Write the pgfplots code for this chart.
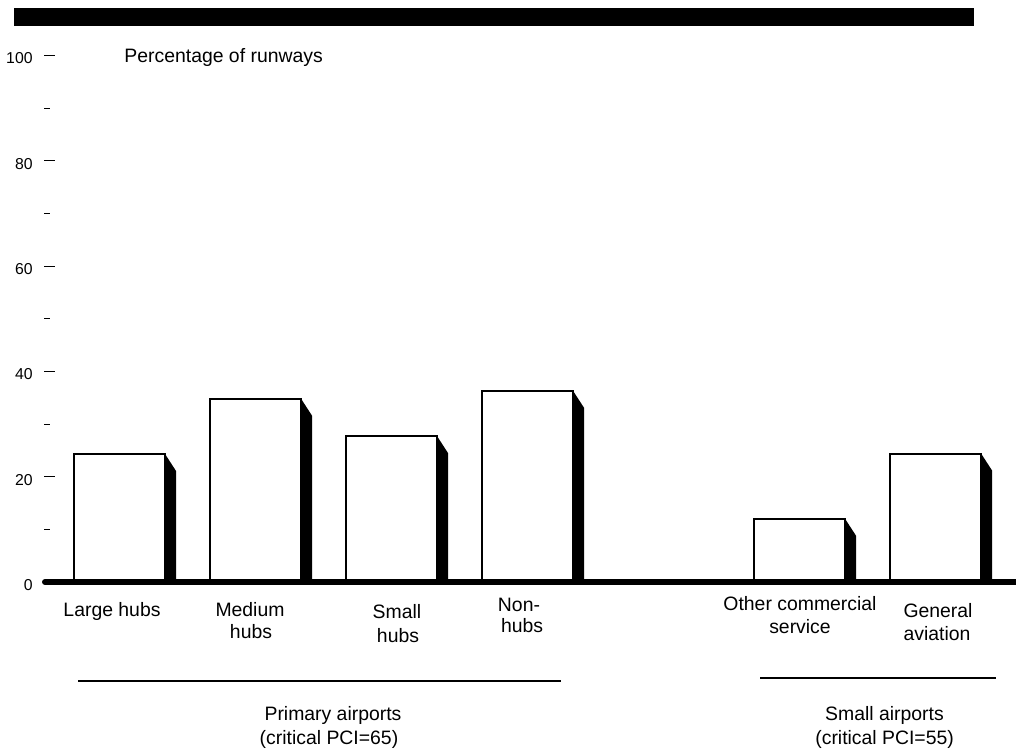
\documentclass[border=0pt]{standalone}
\usepackage{pgfplots}
\pgfplotsset{compat=1.18}
\usepackage{fontspec}
\setmainfont{Liberation Sans}
\begin{document}
\begin{tikzpicture}
\begin{axis}[
  name=ax,
  scale only axis,
  width=486pt, height=291pt,
  xmin=-0.5551, xmax=6.5919,
  ymin=0, ymax=110.54,
  axis lines*=left,
  x axis line style={draw=none},
  y axis line style={draw=none},
  xtick=\empty,
  ytick={0,20,40,60,80,100},
  minor ytick={10,30,50,70,90},
  tick align=inside,
  major tick length=5.5pt,
  minor tick length=3pt,
  tick style={black, line width=0.5pt},
  yticklabel style={font=\fontsize{7.9}{9}\selectfont, anchor=east, inner sep=0pt, xshift=-5.5pt, yshift=-1.5pt},
  /pgf/number format/assume math mode=true,
  clip=false,
]
% shadows (3D side faces)
\addplot[fill=black, draw=none] coordinates {(0.335,0) (0.335,24.3) (0.416,21.07) (0.416,0)} --cycle;
\addplot[fill=black, draw=none] coordinates {(1.335,0) (1.335,34.8) (1.416,31.57) (1.416,0)} --cycle;
\addplot[fill=black, draw=none] coordinates {(2.335,0) (2.335,27.7) (2.416,24.47) (2.416,0)} --cycle;
\addplot[fill=black, draw=none] coordinates {(3.335,0) (3.335,36.3) (3.416,33.07) (3.416,0)} --cycle;
\addplot[fill=black, draw=none] coordinates {(5.335,0) (5.335,12.0) (5.416,8.77) (5.416,0)} --cycle;
\addplot[fill=black, draw=none] coordinates {(6.335,0) (6.335,24.4) (6.416,21.17) (6.416,0)} --cycle;
% bars
\addplot[ybar, bar width=45.5pt, bar shift=0pt, fill=white, draw=black, line width=1pt]
  coordinates {(0,24.3) (1,34.8) (2,27.7) (3,36.3) (5,12.0) (6,24.4)};
% baseline
\draw[line width=3pt, line cap=round] (axis cs:-0.5478,0) -- (axis cs:6.62,0);
% top banner
\fill[black] (axis cs:-0.7757,105.60) rectangle (axis cs:6.2831,109.02);
% title
\node[anchor=base west, inner sep=0pt, font=\fontsize{9.7}{11}\selectfont] at (axis cs:0.0331,98.58) {Percentage of runways};
% category labels
\begin{scope}[every node/.style={anchor=base, inner sep=0pt, font=\fontsize{9.7}{11}\selectfont}]
\node at (axis cs:-0.0551,-6.59) {Large hubs};
\node at (axis cs:0.9596,-6.59) {Medium};
\node at (axis cs:0.9669,-10.69) {hubs};
\node at (axis cs:2.0404,-6.89) {Small};
\node at (axis cs:2.0478,-11.49) {hubs};
\node at (axis cs:2.9375,-5.64) {Non-};
\node at (axis cs:2.9600,-9.63) {hubs};
\node at (axis cs:5.0037,-5.45) {Other commercial};
\node at (axis cs:5.0037,-9.74) {service};
\node at (axis cs:6.0184,-6.70) {General};
\node at (axis cs:6.0110,-11.02) {aviation};
\node at (axis cs:1.5699,-26.40) {Primary airports};
\node at (axis cs:1.5404,-30.96) {(critical PCI=65)};
\node at (axis cs:5.6250,-26.40) {Small airports};
\node at (axis cs:5.6257,-30.96) {(critical PCI=55)};
\end{scope}
% group lines
\draw[line width=0.75pt] (axis cs:-0.3051,-18.80) -- (axis cs:3.2463,-18.80);
\draw[line width=0.75pt] (axis cs:4.7096,-18.23) -- (axis cs:6.4449,-18.23);
% bounding box corners
\coordinate (BL) at (axis cs:-0.8787,-31.91);
\coordinate (TR) at (axis cs:6.5919,110.54);
\end{axis}
\pgfresetboundingbox
\path[use as bounding box] (BL) rectangle (TR);
\end{tikzpicture}
\end{document}
